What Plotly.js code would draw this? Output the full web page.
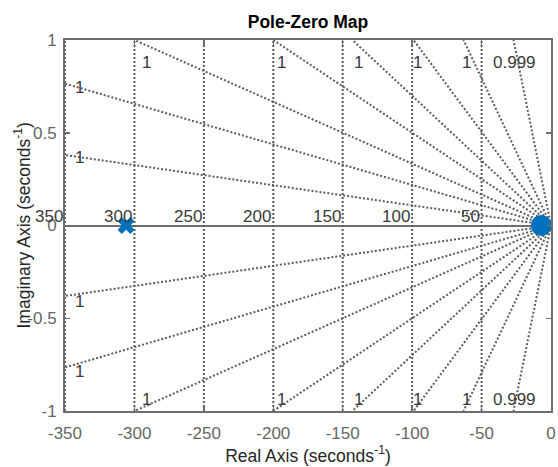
<!DOCTYPE html>
<html>
<head>
<meta charset="utf-8">
<script src="https://cdn.plot.ly/plotly-3.0.1.min.js"></script>
<style>
  html, body { margin: 0; padding: 0; background: #ffffff; }
  #pz { width: 558px; height: 467px; }
</style>
</head>
<body>
<div id="pz"></div>
<script>
// System poles and zeros (real, imaginary)
const poleRe = [-306];
const poleIm = [0];
const zeroRe = [-7];
const zeroIm = [0];

// Axis ticks
const xTickVals = [-350, -300, -250, -200, -150, -100, -50, 0];
const xTickText = ['-350', '-300', '-250', '-200', '-150', '-100', '-50', '0'];
const yTickVals = [-1, -0.5, 0, 0.5, 1];
const yTickText = ['-1', '-0.5', '0', '0.5', '1'];

// Natural-frequency grid (rad/s) and its labels
const wnGrid = [350, 300, 250, 200, 150, 100, 50];
const wnLabels = ['350', '300', '250', '200', '150', '100', '50'];

// Constant-damping rays: where each ray meets the frame (upper half plane)
const rayEndRe = [-350, -350, -300, -200, -143, -99, -63, -27];
const rayEndIm = [0.38, 0.765, 1, 1, 1, 1, 1, 1];
const zetaLabels = ['1', '1', '1', '1', '1', '1', '1', '0.999'];

const BLUE = '#0072BD';
const GRID = '#5c5c5c';
const AXIS = '#6e6e6e';
const FONT = 'Liberation Sans, Arial, Helvetica, sans-serif';
const gridLine = { color: GRID, width: 2, dash: '2px,2px' };

const traces = [];

// frequency circles |s| = wn (left half plane, inside the visible strip)
wnGrid.forEach(function (wn) {
  const xs = [], ys = [];
  for (let k = 0; k <= 40; k++) {
    const im = -1 + k * 0.05;
    xs.push(-Math.sqrt(wn * wn - im * im));
    ys.push(im);
  }
  traces.push({ type: 'scatter', mode: 'lines', x: xs, y: ys, line: gridLine,
                hoverinfo: 'skip', showlegend: false });
});

// damping rays from the origin, mirrored about the real axis
rayEndRe.forEach(function (re, i) {
  [1, -1].forEach(function (sgn) {
    traces.push({ type: 'scatter', mode: 'lines', x: [0, re], y: [0, sgn * rayEndIm[i]],
                  line: gridLine, hoverinfo: 'skip', showlegend: false });
  });
});

// poles and zeros
traces.push({ type: 'scatter', mode: 'markers', x: poleRe, y: poleIm, name: 'Pole',
              marker: { symbol: 'x', size: 15, color: BLUE, line: { width: 0 } },
              cliponaxis: false, showlegend: false });
traces.push({ type: 'scatter', mode: 'markers', x: zeroRe, y: zeroIm, name: 'Zero',
              marker: { symbol: 'circle', size: 21, color: BLUE, line: { width: 0 } },
              cliponaxis: false, showlegend: false });

const annotations = [];
const labelFont = { family: FONT, size: 17, color: '#3a3a3a' };

// frequency labels just above the real axis, left of each circle
wnGrid.forEach(function (wn, i) {
  annotations.push({ x: -wn, y: 0, xref: 'x', yref: 'y', text: wnLabels[i],
                     showarrow: false, xanchor: 'right', yanchor: 'bottom',
                     yshift: -2, font: labelFont });
});

// damping labels near the outer end of each ray
rayEndRe.forEach(function (re, i) {
  const onTop = rayEndIm[i] >= 1;
  const lx = 0.97 * re;
  const ly = 0.97 * rayEndIm[i];
  annotations.push({ x: lx, y: ly, xref: 'x', yref: 'y', text: zetaLabels[i],
                     showarrow: false, xanchor: 'center', yanchor: 'middle',
                     yshift: onTop ? -17 : 0, font: labelFont });
  annotations.push({ x: lx, y: -ly, xref: 'x', yref: 'y', text: zetaLabels[i],
                     showarrow: false, xanchor: 'center', yanchor: 'middle',
                     yshift: onTop ? 6 : -8, font: labelFont });
});

// vertical axis title, placed as rotated text left of the tick labels
annotations.push({ x: -0.0885, y: 0.5, xref: 'paper', yref: 'paper',
                   text: 'Imaginary Axis (seconds<sup>-1</sup>)', textangle: -90,
                   showarrow: false, xanchor: 'center', yanchor: 'middle',
                   font: { family: FONT, size: 17.5, color: '#262626' } });

const axisCommon = {
  showgrid: false,
  showline: true, linecolor: AXIS, linewidth: 2, mirror: 'ticks',
  ticks: 'inside', ticklen: 5, tickwidth: 1.5, tickcolor: AXIS,
  tickfont: { family: FONT, size: 17, color: '#666666' },
  tickmode: 'array', fixedrange: true
};

const layout = {
  width: 558, height: 467,
  margin: { l: 65, r: 7, t: 40, b: 56, pad: 0 },
  paper_bgcolor: '#ffffff', plot_bgcolor: '#ffffff',
  showlegend: false,
  font: { family: FONT },
  title: { text: '<b>Pole-Zero Map</b>', font: { family: FONT, size: 17.5, color: '#000000' },
           x: 0.5, xref: 'paper', xanchor: 'center', y: 1 - 22 / 467, yref: 'container', yanchor: 'middle' },
  xaxis: Object.assign({}, axisCommon, {
    range: [-350, 0], tickvals: xTickVals, ticktext: xTickText, zeroline: false,
    ticklabelstandoff: 6,
    title: { text: 'Real Axis (seconds<sup>-1</sup>)', font: { family: FONT, size: 17.5, color: '#262626' }, standoff: 6 }
  }),
  yaxis: Object.assign({}, axisCommon, {
    range: [-1, 1], tickvals: yTickVals, ticktext: yTickText,
    zeroline: true, zerolinecolor: AXIS, zerolinewidth: 2,
    ticklabelstandoff: 3
  }),
  annotations: annotations
};

Plotly.newPlot('pz', traces, layout, { displayModeBar: false, staticPlot: true });
</script>
</body>
</html>
